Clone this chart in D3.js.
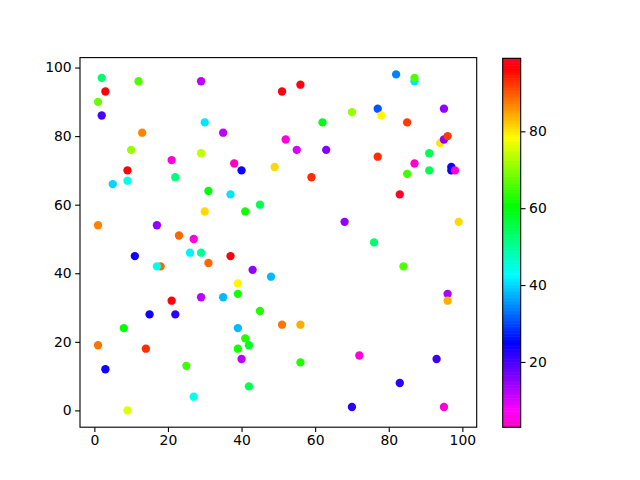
<!DOCTYPE html>
<html><head><meta charset="utf-8">
<script src="https://cdn.jsdelivr.net/npm/d3@7"></script>
<style>body{margin:0;background:#fff}svg{display:block}text{font-family:"DejaVu Sans",sans-serif;font-size:13.9px;fill:#000}</style>
</head><body><svg id="c" width="640" height="480"></svg>
<script>
const xs = [2,12,29,51,3,1,2,30,13,35,10,29,21,38,40,49,9,5,9,22,31,37,45,41,30,1,17,23,27,
 56,82,87,87,77,78,70,95,62,85,52,55,63,59,77,87,85,91,91,94,95,96,97,97,98,83,68,99,76,
 11,18,17,26,29,31,37,43,48,39,39,35,29,21,15,22,45,51,8,1,14,39,41,42,39,40,3,25,42,27,9,
 84,96,96,56,56,72,93,83,70,95];
const ys = [97,96,96,93,93,90,86,84,81,81,76,75,73,72,70,71,70,66,67,68,64,63,60,58,58,54,54,51,50,
 95,98,96,97,88,86,87,88,84,84,79,76,76,68,74,72,69,75,70,78,79,80,71,70,70,63,55,55,49,
 45,42,42,46,46,43,45,41,39,37,34,33,33,32,28,28,29,25,24,19,18,24,21,19,18,15,12,13,7,4,0,
 42,34,32,25,14,16,15,8,1,1];
const cs = [53,66,12,97,97,68,20,41,87,12,71,74,5,3,24,81,97,40,44,52,60,41,55,62,81,87,15,89,5,
 97,34,41,66,31,79,71,15,59,92,5,10,16,93,93,4,65,55,55,80,15,92,24,24,4,99,15,81,53,
 24,89,44,42,50,89,97,15,38,79,62,38,12,97,24,22,63,88,60,88,93,38,63,58,62,12,24,65,55,44,76,
 66,13,84,84,63,5,21,22,22,4];
const xTicks = [0,20,40,60,80,100];
const yTicks = [0,20,40,60,80,100];
const cTicks = [20,40,60,80];

// gist_rainbow colormap (used reversed)
const gr = [[0.000,[1,0,0.16]],[0.030,[1,0,0]],[0.215,[1,1,0]],[0.400,[0,1,0]],
  [0.586,[0,1,1]],[0.770,[0,0,1]],[0.954,[1,0,1]],[1.000,[1,0,0.75]]];
function gistRainbow(t){
  t=Math.max(0,Math.min(1,t));
  for(let i=1;i<gr.length;i++){
    if(t<=gr[i][0]){
      const a=gr[i-1],b=gr[i],f=(t-a[0])/(b[0]-a[0]);
      const c=a[1].map((v,k)=>Math.round(255*(v+(b[1][k]-v)*f)));
      return `rgb(${c[0]},${c[1]},${c[2]})`;
    }
  }
  return "rgb(255,0,191)";
}
const cmap = t => gistRainbow(1-t);

const svg = d3.select("#c");
const L=80,R=476.7,T=57.6,B=427.2;
const x = d3.scaleLinear().domain([-3.9,103.9]).range([L,R]);
const y = d3.scaleLinear().domain([-4.9,102.9]).range([B,T]);
const cExt = d3.extent(cs);
const cnorm = d3.scaleLinear().domain(cExt).range([0,1]);

const g = svg.append("g");
xs.forEach((v,i)=>{
  g.append("circle").attr("cx",x(v)).attr("cy",y(ys[i])).attr("r",4.17)
   .attr("fill",cmap(cnorm(cs[i])));
});

const xa = svg.append("g").attr("transform",`translate(0,${B})`)
  .call(d3.axisBottom(x).tickValues(xTicks).tickSize(4.86).tickPadding(3.5));
const ya = svg.append("g").attr("transform",`translate(${L},0)`)
  .call(d3.axisLeft(y).tickValues(yTicks).tickSize(4.86).tickPadding(3.5));
[xa,ya].forEach(a=>{a.select(".domain").remove();a.selectAll("line").attr("stroke","#000").attr("stroke-width",1.1);
  a.selectAll("text").style("font-family","DejaVu Sans, sans-serif").style("font-size","13.9px");});
svg.append("rect").attr("x",L).attr("y",T).attr("width",R-L).attr("height",B-T)
  .attr("fill","none").attr("stroke","#000").attr("stroke-width",1.1);

// colorbar
const CL=502.7,CR=520.7,CT=58.3,CB=427.3;
const cy = d3.scaleLinear().domain(cExt).range([CB,CT]);
const N=256, h=(CB-CT)/N;
const cb = svg.append("g");
for(let i=0;i<N;i++){
  cb.append("rect").attr("x",CL).attr("width",CR-CL).attr("y",CB-(i+1)*h-0.3).attr("height",h+0.6)
   .attr("fill",cmap((i+0.5)/N));
}
cb.append("rect").attr("x",CL).attr("y",CT).attr("width",CR-CL).attr("height",CB-CT)
  .attr("fill","none").attr("stroke","#000").attr("stroke-width",1.1);
const ca = svg.append("g").attr("transform",`translate(${CR},0)`)
  .call(d3.axisRight(cy).tickValues(cTicks).tickSize(4.86).tickPadding(3.5));
ca.select(".domain").remove();
ca.selectAll("line").attr("stroke","#000").attr("stroke-width",1.1);
ca.selectAll("text").style("font-family","DejaVu Sans, sans-serif").style("font-size","13.9px");
</script></body></html>
